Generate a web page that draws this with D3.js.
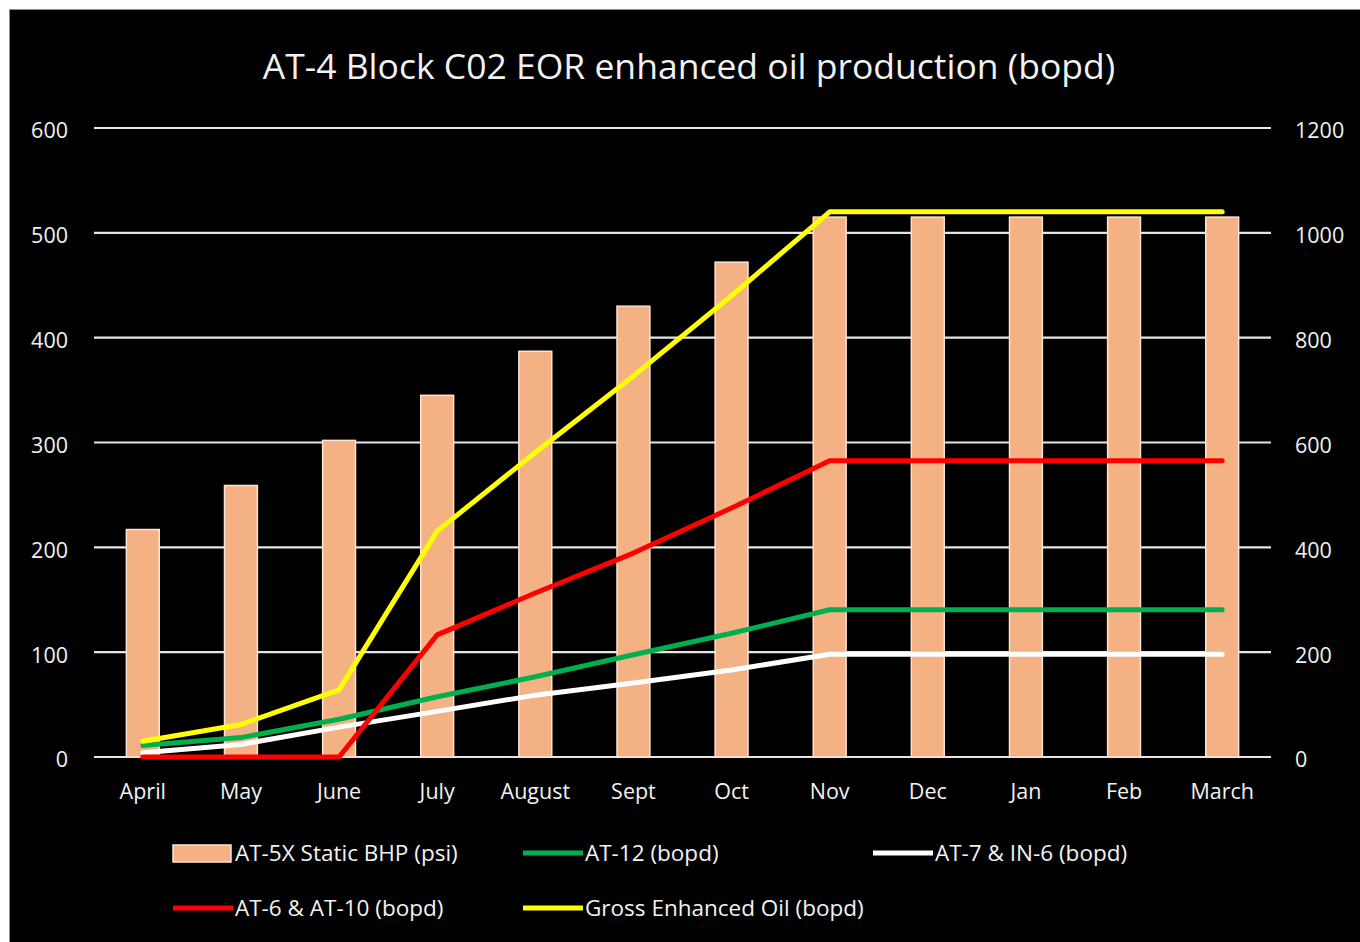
<!DOCTYPE html>
<html>
<head>
<meta charset="utf-8">
<script src="https://cdn.jsdelivr.net/npm/d3@7/dist/d3.min.js"></script>
<style>
  html, body { margin: 0; padding: 0; background: #ffffff; }
  svg { display: block; }
  text { font-family: "Open Sans", "Lato", sans-serif; fill: #f2f2f2; }
</style>
</head>
<body>
<svg id="chart" width="1360" height="942"></svg>
<script>
// Months of the reporting year
const months = ["April", "May", "June", "July", "August", "Sept", "Oct", "Nov", "Dec", "Jan", "Feb", "March"];

// AT-5X static bottom-hole pressure (psi, left axis)
const bhpPsi = [217, 259, 302, 345, 387, 430, 472, 515, 515, 515, 515, 515];

// Well production (bopd, right axis)
const at12 = [22, 37, 72, 115, 153, 195, 236, 281, 281, 281, 281, 281];
const at7in6 = [8, 24, 57, 87, 118, 141, 166, 196, 196, 196, 196, 196];
const at6at10 = [0, 0, 0, 233, 313, 389, 475, 565, 565, 565, 565, 565];
const grossOil = [30, 62, 128, 431, 581, 727, 880, 1040, 1040, 1040, 1040, 1040];

// Axis ticks
const leftTicks = [0, 100, 200, 300, 400, 500, 600];
const rightTicks = [0, 200, 400, 600, 800, 1000, 1200];

const title = "AT-4 Block C02 EOR enhanced oil production (bopd)";

const lineSeries = [
  { name: "AT-12 (bopd)", values: at12, color: "#00b050" },
  { name: "AT-7 & IN-6 (bopd)", values: at7in6, color: "#ffffff" },
  { name: "AT-6 & AT-10 (bopd)", values: at6at10, color: "#ff0000" },
  { name: "Gross Enhanced Oil (bopd)", values: grossOil, color: "#ffff00" }
];

const svg = d3.select("#chart");

// Black panel
svg.append("rect")
  .attr("x", 9.5).attr("y", 9.5)
  .attr("width", 1360).attr("height", 942)
  .attr("fill", "#000000")
  .attr("stroke", "#8c8c8c").attr("stroke-width", 1);

const plot = { left: 94, right: 1271, top: 128, bottom: 757 };

const x = d3.scaleBand().domain(months).range([plot.left, plot.right]).paddingInner(0.665).paddingOuter(0.33);
const xc = d => x(d) + x.bandwidth() / 2;
const yL = d3.scaleLinear().domain([0, 600]).range([plot.bottom, plot.top]);
const yR = d3.scaleLinear().domain([0, 1200]).range([plot.bottom, plot.top]);

const labelSize = 21.5;

// Gridlines
svg.append("g").selectAll("line").data(leftTicks).join("line")
  .attr("x1", plot.left).attr("x2", plot.right)
  .attr("y1", d => yL(d)).attr("y2", d => yL(d))
  .attr("stroke", "#e6e6e6").attr("stroke-width", 2.2);

// Left axis labels
const axisL = d3.axisLeft(yL).tickValues(leftTicks).tickFormat(d3.format("d")).tickSize(0).tickPadding(0);
svg.append("g").attr("transform", "translate(68,3)").call(axisL)
  .call(g => g.select(".domain").remove())
  .selectAll("text")
  .style("font-family", "'Open Sans', sans-serif")
  .attr("font-size", labelSize).attr("fill", "#f2f2f2");

// Right axis labels
const axisR = d3.axisRight(yR).tickValues(rightTicks).tickFormat(d3.format("d")).tickSize(0).tickPadding(0);
svg.append("g").attr("transform", "translate(1295,3)").call(axisR)
  .call(g => g.select(".domain").remove())
  .selectAll("text")
  .style("font-family", "'Open Sans', sans-serif")
  .attr("font-size", labelSize).attr("fill", "#f2f2f2");

// Month labels
const axisB = d3.axisBottom(x).tickSize(0).tickPadding(0);
svg.append("g").attr("transform", "translate(0,784)").call(axisB)
  .call(g => g.select(".domain").remove())
  .selectAll("text")
  .style("font-family", "'Open Sans', sans-serif")
  .attr("font-size", labelSize).attr("fill", "#f2f2f2");

// Pressure bars
svg.append("g").selectAll("rect").data(months).join("rect")
  .attr("x", d => x(d))
  .attr("y", (d, i) => yL(bhpPsi[i]))
  .attr("width", x.bandwidth())
  .attr("height", (d, i) => yL(0) - yL(bhpPsi[i]))
  .attr("fill", "#f4b183")
  .attr("stroke", "#fce4d6").attr("stroke-width", 1.5);

// Production lines
const line = d3.line().x((v, i) => xc(months[i])).y(v => yR(v));
svg.append("g").selectAll("path").data(lineSeries).join("path")
  .attr("d", s => line(s.values))
  .attr("fill", "none")
  .attr("stroke", s => s.color)
  .attr("stroke-width", 5)
  .attr("stroke-linejoin", "round")
  .attr("stroke-linecap", "round");

// Title
svg.append("text")
  .attr("x", 689).attr("y", 79)
  .attr("text-anchor", "middle")
  .attr("font-size", 35.5)
  .text(title);

// Legend
const legendItems = [
  { name: "AT-5X Static BHP (psi)", type: "bar", color: "#f4b183", sx: 173, y: 853 },
  { name: lineSeries[0].name, type: "line", color: lineSeries[0].color, sx: 523, y: 853 },
  { name: lineSeries[1].name, type: "line", color: lineSeries[1].color, sx: 873, y: 853 },
  { name: lineSeries[2].name, type: "line", color: lineSeries[2].color, sx: 173, y: 908 },
  { name: lineSeries[3].name, type: "line", color: lineSeries[3].color, sx: 523, y: 908 }
];
const lg = svg.append("g").selectAll("g").data(legendItems).join("g");
lg.filter(d => d.type === "bar").append("rect")
  .attr("x", d => d.sx).attr("y", d => d.y - 8)
  .attr("width", 58).attr("height", 17)
  .attr("fill", d => d.color)
  .attr("stroke", "#fce4d6").attr("stroke-width", 1.5);
lg.filter(d => d.type === "line").append("line")
  .attr("x1", d => d.sx).attr("x2", d => d.sx + 60)
  .attr("y1", d => d.y).attr("y2", d => d.y)
  .attr("stroke", d => d.color).attr("stroke-width", 5);
lg.append("text")
  .attr("x", d => d.sx + 62).attr("y", d => d.y + 8)
  .attr("font-size", 22.5)
  .text(d => d.name);
</script>
</body>
</html>
